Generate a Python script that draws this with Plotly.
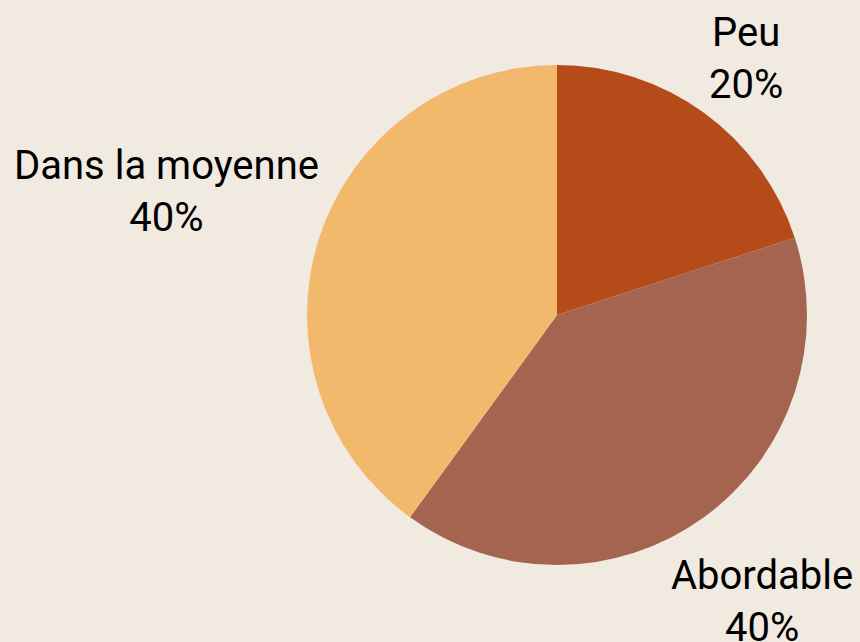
import math
import plotly.graph_objects as go

labels = ["Peu", "Abordable", "Dans la moyenne"]
values = [20, 40, 40]
colors = ["#B54B19", "#A56450", "#F2B86C"]

W, H = 860, 642
cx, cy, r = 557, 315, 250
# radial distance (px) of each label's centre from the pie centre
label_dist = [322, 349, 411]
label_dy = 4  # small downward nudge of the label boxes

fig = go.Figure(go.Pie(
    labels=labels,
    values=values,
    sort=False,
    direction="clockwise",
    rotation=0,
    automargin=False,
    marker=dict(colors=colors, line=dict(width=0)),
    textinfo="none",
    showlegend=False,
    domain=dict(x=[(cx - r) / W, (cx + r) / W], y=[(H - cy - r) / H, (H - cy + r) / H]),
))

total = sum(values)
cum = 0
annotations = []
for lab, val, d in zip(labels, values, label_dist):
    mid = (cum + val / 2) / total * 2 * math.pi
    cum += val
    px = cx + d * math.sin(mid)
    py = cy - d * math.cos(mid) + label_dy
    pct = round(val / total * 100)
    annotations.append(dict(
        x=px / W, y=1 - py / H, xref="paper", yref="paper",
        xanchor="center", yanchor="middle",
        text=f"{lab}<br>{pct}%", showarrow=False, align="center",
        font=dict(family="Roboto", size=40, color="#000000"),
    ))

fig.update_layout(
    width=W, height=H,
    margin=dict(l=0, r=0, t=0, b=0, pad=0),
    paper_bgcolor="#F1EAE0",
    plot_bgcolor="#F1EAE0",
    font=dict(family="Roboto"),
    annotations=annotations,
)

fig.write_html(
    "out.html",
    config={"displayModeBar": False},
    post_script="document.body.style.margin='0';document.body.style.background='#F1EAE0';",
)
